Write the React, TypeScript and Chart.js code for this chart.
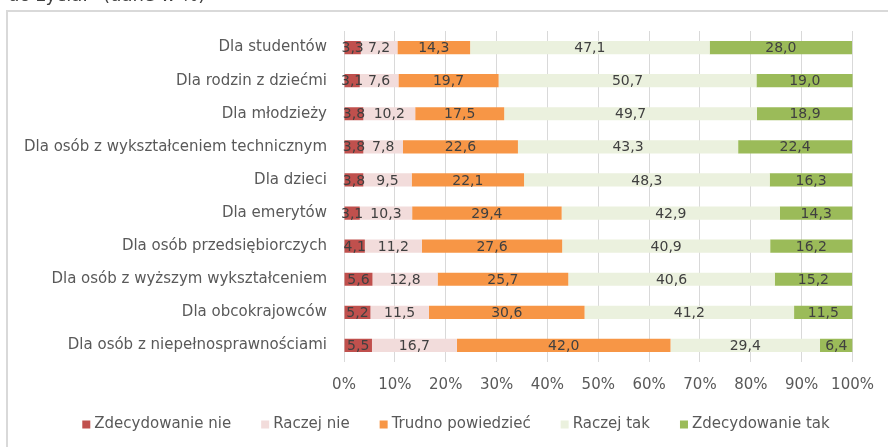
import React, { useEffect, useRef } from 'react';
import { Chart, registerables } from 'chart.js';

Chart.register(...registerables);

const categories = [
  'Dla studentów',
  'Dla rodzin z dziećmi',
  'Dla młodzieży',
  'Dla osób z wykształceniem technicznym',
  'Dla dzieci',
  'Dla emerytów',
  'Dla osób przedsiębiorczych',
  'Dla osób z wyższym wykształceniem',
  'Dla obcokrajowców',
  'Dla osób z niepełnosprawnościami',
];

const seriesNames = ['Zdecydowanie nie', 'Raczej nie', 'Trudno powiedzieć', 'Raczej tak', 'Zdecydowanie tak'];

const zdecydowanieNie = [3.3, 3.1, 3.8, 3.8, 3.8, 3.1, 4.1, 5.6, 5.2, 5.5];
const raczejNie = [7.2, 7.6, 10.2, 7.8, 9.5, 10.3, 11.2, 12.8, 11.5, 16.7];
const trudnoPowiedziec = [14.3, 19.7, 17.5, 22.6, 22.1, 29.4, 27.6, 25.7, 30.6, 42.0];
const raczejTak = [47.1, 50.7, 49.7, 43.3, 48.3, 42.9, 40.9, 40.6, 41.2, 29.4];
const zdecydowanieTak = [28.0, 19.0, 18.9, 22.4, 16.3, 14.3, 16.2, 15.2, 11.5, 6.4];

const seriesColors = ['#C0504D', '#F2DCDB', '#F79646', '#EBF1DE', '#9BBB59'];

const FONT = "'DejaVu Sans', sans-serif";

const dataLabelsPlugin = {
  id: 'dataLabels',
  afterDatasetsDraw(chart: any) {
    const ctx = chart.ctx;
    ctx.save();
    ctx.font = `14px ${FONT}`;
    ctx.fillStyle = '#404040';
    ctx.textAlign = 'center';
    ctx.textBaseline = 'middle';
    chart.data.datasets.forEach((ds: any, di: number) => {
      const meta = chart.getDatasetMeta(di);
      meta.data.forEach((el: any, i: number) => {
        const v = ds.data[i];
        const x = (el.x + el.base) / 2;
        ctx.fillText(v.toFixed(1).replace('.', ','), x, el.y + 1);
      });
    });
    ctx.restore();
  },
};

const customLegendPlugin = {
  id: 'customLegend',
  afterDraw(chart: any) {
    const ctx = chart.ctx;
    ctx.save();
    ctx.font = `15px ${FONT}`;
    const box = 8;
    const boxGap = 4;
    const itemGap = 30;
    const widths = seriesNames.map((n) => ctx.measureText(n).width);
    const total = widths.reduce((a, w) => a + w + box + boxGap, 0) + itemGap * (seriesNames.length - 1);
    const centerX = 456;
    const cy = 424.5;
    let x = centerX - total / 2;
    seriesNames.forEach((name, i) => {
      ctx.fillStyle = seriesColors[i];
      ctx.fillRect(x, cy - box / 2, box, box);
      ctx.fillStyle = '#595959';
      ctx.textAlign = 'left';
      ctx.textBaseline = 'middle';
      ctx.fillText(name, x + box + boxGap, cy);
      x += box + boxGap + widths[i] + itemGap;
    });
    ctx.restore();
  },
};

export default function App() {
  const canvasRef = useRef<HTMLCanvasElement | null>(null);

  useEffect(() => {
    if (!canvasRef.current) return;
    const seriesValues = [zdecydowanieNie, raczejNie, trudnoPowiedziec, raczejTak, zdecydowanieTak];
    const chart = new Chart(canvasRef.current, {
      type: 'bar',
      data: {
        labels: categories,
        datasets: seriesNames.map((name, i) => ({
          label: name,
          data: seriesValues[i],
          backgroundColor: seriesColors[i],
          borderWidth: 0,
          categoryPercentage: 1,
          barPercentage: 0.4,
        })),
      },
      options: {
        indexAxis: 'y',
        responsive: false,
        animation: false,
        devicePixelRatio: 1,
        layout: { padding: { top: 31, right: 34, left: 0, bottom: 0 } },
        plugins: {
          legend: { display: false },
          tooltip: { enabled: false },
          title: { display: false },
        },
        scales: {
          x: {
            stacked: true,
            min: 0,
            max: 100,
            border: { display: false },
            grid: { color: '#d9d9d9', lineWidth: 1, drawTicks: false },
            ticks: {
              stepSize: 10,
              padding: 14,
              color: '#595959',
              font: { family: FONT, size: 15 },
              callback: (v: any) => `${v}%`,
            },
            afterFit: (scale: any) => {
              scale.height = 85;
            },
          },
          y: {
            stacked: true,
            border: { display: false },
            grid: { display: false, drawTicks: false },
            ticks: {
              padding: 17,
              color: '#595959',
              font: { family: FONT, size: 15 },
            },
            afterFit: (scale: any) => {
              scale.width = 344;
            },
          },
        },
      },
      plugins: [dataLabelsPlugin, customLegendPlugin],
    });
    return () => chart.destroy();
  }, []);

  return (
    <div>
      <div
        style={{
          position: 'fixed',
          left: 8,
          top: -14,
          fontFamily: FONT,
          fontSize: 18,
          lineHeight: '18px',
          color: '#404040',
          whiteSpace: 'nowrap',
        }}
      >
        do życia.” (dane w %)
      </div>
      <div
        style={{
          position: 'fixed',
          left: 6,
          top: 10,
          width: 1000,
          height: 1000,
          border: '2px solid #d9d9d9',
          boxSizing: 'border-box',
        }}
      />
      <canvas
        ref={canvasRef}
        width={888}
        height={447}
        style={{ position: 'fixed', left: 0, top: 0, width: 888, height: 447, display: 'block' }}
      />
    </div>
  );
}
